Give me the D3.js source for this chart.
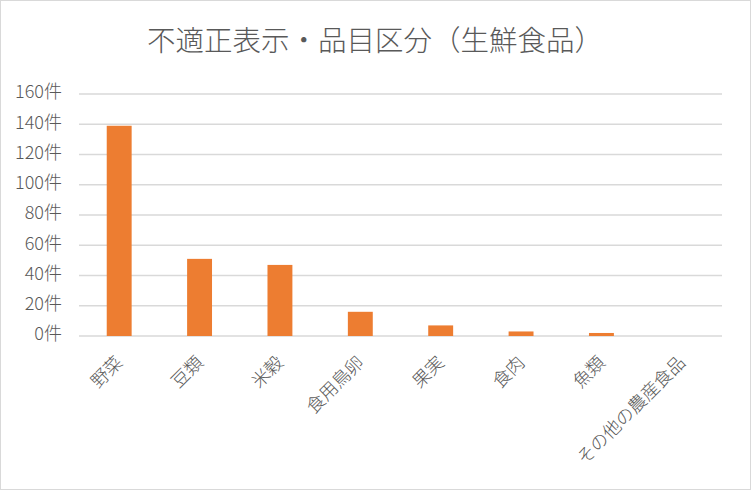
<!DOCTYPE html>
<html><head><meta charset="utf-8">
<script src="https://cdn.jsdelivr.net/npm/d3@7"></script>
<style>
html,body{margin:0;padding:0;background:#fff;}
svg{display:block;font-family:"Noto Sans CJK JP","Noto Sans",sans-serif;}
</style></head><body>
<svg id="c" width="752" height="491"></svg>
<script>
const categories = ["野菜","豆類","米穀","食用鳥卵","果実","食肉","魚類","その他の農産食品"];
const values = [139, 51, 47, 16, 7, 3, 2, 0];
const tickValues = [0,20,40,60,80,100,120,140,160];
const title = "不適正表示・品目区分（生鮮食品）";

const svg = d3.select("#c");
const W = 752, H = 491;
const m = {left:79, right:30, top:94, bottom:155};

svg.append("rect").attr("x",0.5).attr("y",0.5).attr("width",W-2).attr("height",H-2)
  .attr("fill","#fff").attr("stroke","#d9d9d9").attr("stroke-width",1);

const x = d3.scaleBand().domain(categories).range([m.left, W-m.right]).paddingInner(0.69).paddingOuter(0.345);
const y = d3.scaleLinear().domain([0,160]).range([336, 94]);

// gridlines
svg.append("g").selectAll("line").data(tickValues).join("line")
  .attr("x1", m.left).attr("x2", W-m.right)
  .attr("y1", d=>y(d)).attr("y2", d=>y(d))
  .attr("stroke","#d9d9d9").attr("stroke-width",1.5);

// y axis labels
const yAxis = d3.axisLeft(y).tickValues(tickValues).tickSize(0).tickPadding(0).tickFormat(d=>d+"件");
const ga = svg.append("g").attr("transform",`translate(62,-2)`).call(yAxis);
ga.select(".domain").remove();
ga.selectAll("text").attr("fill","#595959").style("font-size","18px").style("font-weight","300")
  .style("font-family",'"Noto Sans CJK JP",sans-serif');

// bars
svg.append("g").selectAll("rect").data(values).join("rect")
  .attr("x",(d,i)=>x(categories[i]))
  .attr("width",x.bandwidth())
  .attr("y",d=>y(d))
  .attr("height",d=>y(0)-y(d))
  .attr("fill","#ed7d31");

// x axis labels
const xAxis = d3.axisBottom(x).tickSize(0).tickPadding(0);
const gx = svg.append("g").attr("transform",`translate(0,${y(0)})`).call(xAxis);
gx.select(".domain").remove();
gx.selectAll("text")
  .attr("fill","#595959").style("font-size","18px").style("font-weight","300")
  .style("font-family",'"Noto Sans CJK JP",sans-serif')
  .attr("text-anchor","end")
  .attr("dy",null).attr("y",0)
  .attr("transform","translate(-1,22) rotate(-45)")
  .attr("dominant-baseline","central");

// title
svg.append("text").attr("x",375).attr("y",51).attr("text-anchor","middle")
  .attr("fill","#595959").style("font-size","28.5px").style("font-weight","300")
  .text(title);
</script>
</body></html>
